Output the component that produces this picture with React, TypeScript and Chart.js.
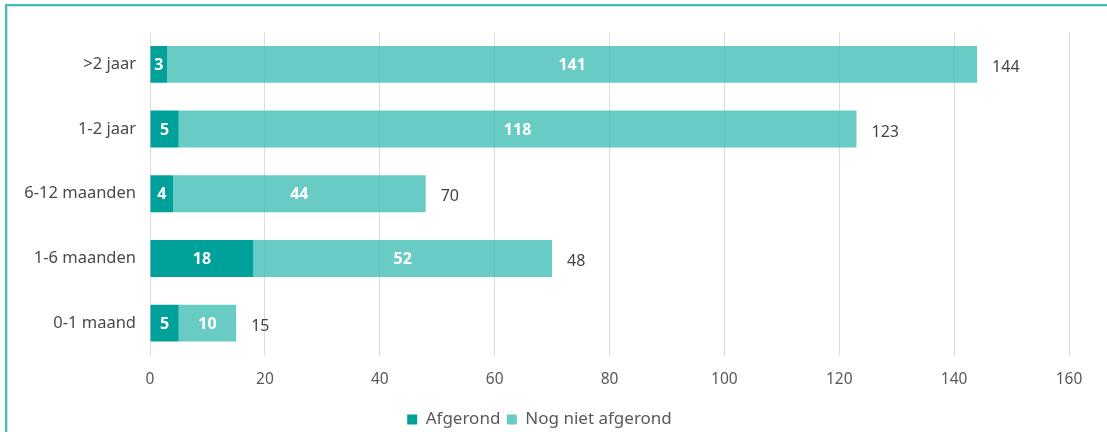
import React, { useEffect, useRef } from "react";
import { Chart, registerables } from "chart.js";

Chart.register(...registerables);

const categories = [">2 jaar", "1-2 jaar", "6-12 maanden", "1-6 maanden", "0-1 maand"];
const afgerond = [3, 5, 4, 18, 5];
const nogNietAfgerond = [141, 118, 44, 52, 10];
const totalLabels = ["144", "123", "70", "48", "15"];
const xTicks = [0, 20, 40, 60, 80, 100, 120, 140, 160];

const FONT = "'Noto Sans', Lato, sans-serif";

const labelPlugin = {
  id: "barLabels",
  afterDatasetsDraw(chart: any) {
    const ctx = chart.ctx;
    ctx.save();
    ctx.textBaseline = "middle";
    chart.data.datasets.forEach((ds: any, di: number) => {
      const meta = chart.getDatasetMeta(di);
      meta.data.forEach((el: any, i: number) => {
        const props = el.getProps(["x", "y", "base"], true);
        const cx = (props.x + props.base) / 2;
        ctx.font = `bold 16px ${FONT}`;
        ctx.fillStyle = "#ffffff";
        ctx.textAlign = "center";
        ctx.fillText(String(ds.data[i]), cx, props.y + 1);
        if (di === chart.data.datasets.length - 1) {
          ctx.font = `16px ${FONT}`;
          ctx.fillStyle = "#444444";
          ctx.textAlign = "left";
          ctx.fillText(totalLabels[i], props.x + 15, props.y + 3);
        }
      });
    });
    ctx.restore();
  },
};

export default function App() {
  const ref = useRef<HTMLCanvasElement>(null);

  useEffect(() => {
    if (!ref.current) return;
    const chart = new Chart(ref.current, {
      type: "bar",
      data: {
        labels: categories,
        datasets: [
          {
            label: "Afgerond",
            data: afgerond,
            backgroundColor: "#00a19a",
            categoryPercentage: 0.57,
            barPercentage: 1,
          },
          {
            label: "Nog niet afgerond",
            data: nogNietAfgerond,
            backgroundColor: "rgba(56,187,178,0.76)",
            categoryPercentage: 0.57,
            barPercentage: 1,
          },
        ],
      },
      options: {
        indexAxis: "y",
        animation: false,
        responsive: false,
        maintainAspectRatio: false,
        layout: { padding: { top: 24, right: 38, left: 0, bottom: 0 } },
        scales: {
          x: {
            stacked: true,
            min: 0,
            max: 160,
            afterBuildTicks: (scale: any) => {
              scale.ticks = xTicks.map((v) => ({ value: v }));
            },
            afterFit: (scale: any) => {
              scale.height = 49;
            },
            grid: { color: "#dcdcdc", drawTicks: false, lineWidth: 1 },
            border: { display: false },
            ticks: {
              padding: 15,
              color: "#595959",
              font: { family: FONT, size: 15.5 },
            },
          },
          y: {
            stacked: true,
            afterFit: (scale: any) => {
              scale.width = 140;
            },
            grid: { display: false, drawTicks: false },
            border: { display: false },
            ticks: {
              padding: 14,
              color: "#4a4a4a",
              font: { family: FONT, size: 16.5 },
            },
          },
        },
        plugins: {
          legend: {
            position: "bottom",
            labels: {
              boxWidth: 10,
              boxHeight: 10,
              padding: 6.5,
              color: "#595959",
              font: { family: FONT, size: 17 },
            },
          },
          tooltip: { enabled: false },
        },
      },
      plugins: [labelPlugin],
    } as any);
    return () => chart.destroy();
  }, []);

  return (
    <div
      style={{
        position: "fixed",
        left: 0,
        top: 0,
        width: 1107,
        height: 432,
        overflow: "hidden",
        background: "#fff",
      }}
    >
      <div
        style={{
          position: "absolute",
          left: 5,
          top: 4,
          width: 1120,
          height: 460,
          border: "2px solid #3dc0b9",
          boxShadow: "inset 1px 1px 0 #dedede",
          boxSizing: "border-box",
        }}
      />
      <canvas
        ref={ref}
        width={1097}
        height={430}
        style={{ position: "absolute", left: 10, top: 8, width: 1097, height: 430 }}
      />
    </div>
  );
}
